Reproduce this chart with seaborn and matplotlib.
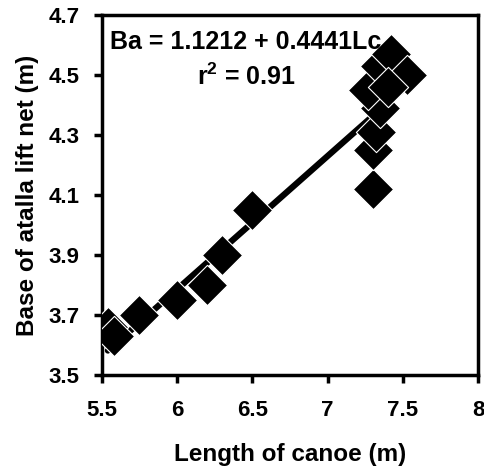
import matplotlib
matplotlib.use("Agg")
import matplotlib.pyplot as plt
import seaborn as sns
import numpy as np
import pandas as pd

canoe_length = [5.54, 5.58, 5.75, 6.0, 6.2, 6.3, 6.5, 7.3, 7.3, 7.32, 7.35, 7.27, 7.35, 7.42, 7.53, 7.4]
base_width = [3.66, 3.63, 3.70, 3.75, 3.80, 3.90, 4.05, 4.12, 4.25, 4.31, 4.39, 4.45, 4.53, 4.57, 4.50, 4.46]
intercept = 1.1212
slope = 0.4441
x_ticks = [5.5, 6, 6.5, 7, 7.5, 8]
y_ticks = [3.5, 3.7, 3.9, 4.1, 4.3, 4.5, 4.7]

df = pd.DataFrame({"Lc": canoe_length, "Ba": base_width})
line_x = np.array([min(canoe_length), 7.5])
line_df = pd.DataFrame({"Lc": line_x, "Ba": intercept + slope * line_x})

sns.set_style("ticks")
plt.rcParams["font.family"] = ["Liberation Sans", "DejaVu Sans"]
plt.rcParams["font.weight"] = "bold"
plt.rcParams["text.color"] = "black"
plt.rcParams["axes.labelcolor"] = "black"
plt.rcParams["xtick.color"] = "black"
plt.rcParams["ytick.color"] = "black"
plt.rcParams["mathtext.fontset"] = "custom"
plt.rcParams["mathtext.bf"] = "Liberation Sans:bold"
plt.rcParams["mathtext.rm"] = "Liberation Sans:bold"

fig = plt.figure(figsize=(4.85, 4.67), dpi=100)
ax = fig.add_axes([0.21, 0.197, 0.776, 0.771])

sns.lineplot(data=line_df, x="Lc", y="Ba", ax=ax, color="black", linewidth=4.5, zorder=2)
sns.scatterplot(data=df, x="Lc", y="Ba", ax=ax, marker="D", s=420, color="black",
                edgecolor="white", linewidth=0.8, zorder=3)

ax.set_xlim(5.5, 8.0)
ax.set_ylim(3.5, 4.7)
ax.set_xticks(x_ticks)
ax.set_xticklabels([f"{t:g}" for t in x_ticks])
ax.set_yticks(y_ticks)
ax.set_yticklabels([f"{t:.1f}" for t in y_ticks])
ax.tick_params(axis="both", direction="out", length=6, width=2.5, labelsize=16,
               colors="black", labelcolor="black")
ax.tick_params(axis="x", pad=12)
ax.tick_params(axis="y", pad=10)
for lab in ax.get_xticklabels() + ax.get_yticklabels():
    lab.set_fontweight("bold")
    lab.set_color("black")
for sp in ax.spines.values():
    sp.set_linewidth(2.5)
    sp.set_color("black")

ax.set_xlabel("Length of canoe (m)", fontsize=17.5, fontweight="bold", labelpad=16, color="black")
ax.set_ylabel("Base of atalla lift net (m)", fontsize=17.5, fontweight="bold", labelpad=7, color="black")

ax.text(6.458, 4.61, "Ba = 1.1212 + 0.4441Lc", ha="center", va="center", fontsize=18,
        fontweight="bold", color="black")
ax.text(6.458, 4.495, r"r$^\mathbf{2}$ = 0.91", ha="center", va="center", fontsize=18,
        fontweight="bold", color="black")

fig.savefig("out.png", dpi=100)
